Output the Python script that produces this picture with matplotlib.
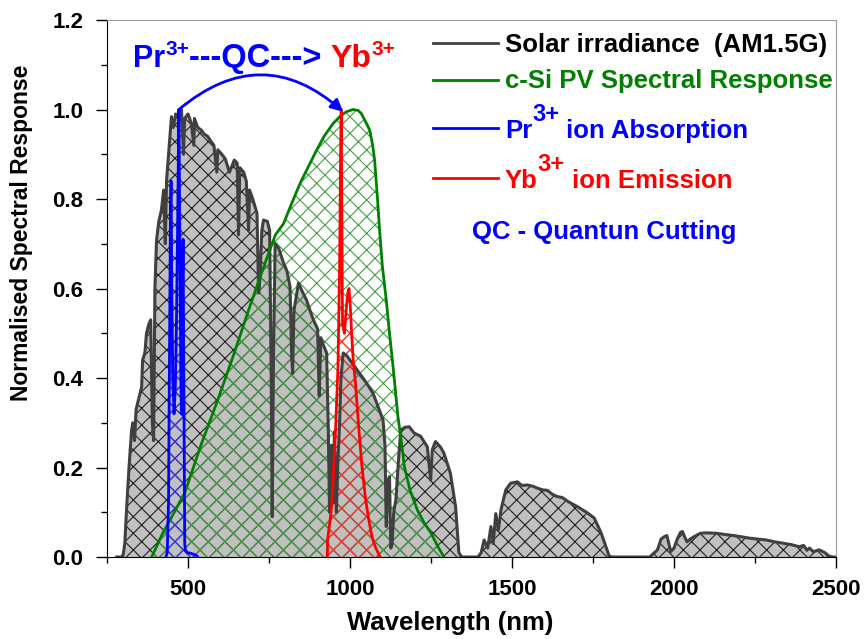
import numpy as np
import matplotlib
matplotlib.use('Agg')
import matplotlib.pyplot as plt
from matplotlib.ticker import MultipleLocator

plt.rcParams['font.family'] = ['Liberation Sans', 'DejaVu Sans']
plt.rcParams['font.weight'] = 'bold'
plt.rcParams['hatch.linewidth'] = 0.8

## AM1.5G solar irradiance (normalised)
solar_wl = [280, 295, 300, 305, 310, 318, 326, 330, 335, 340, 350, 357, 360, 367, 372, 379, 385,
            390, 394, 398, 403, 410, 418, 425, 430, 434, 440, 445, 449, 455, 462, 470, 475, 480,
            486, 490, 500, 510, 518, 520, 530, 541, 550, 561, 570, 580, 589, 592, 602, 615, 628,
            643, 652, 656, 660, 672, 680, 687, 690, 700, 713, 718, 722, 728, 733, 745, 752, 757,
            760, 764, 769, 780, 795, 805, 815, 820, 823, 827, 841, 855, 866, 877, 887, 900, 905,
            910, 920, 928, 933, 937, 943, 948, 952, 958, 963, 968, 972, 979, 990, 1000, 1015,
            1030, 1050, 1071, 1090, 1102, 1108, 1112, 1117, 1122, 1126, 1130, 1135, 1142, 1150,
            1157, 1170, 1183, 1198, 1218, 1239, 1245, 1249, 1254, 1264, 1280, 1290, 1310, 1326,
            1336, 1345, 1395, 1405, 1414, 1425, 1435, 1442, 1450, 1458, 1466, 1474, 1481, 1496,
            1517, 1530, 1548, 1565, 1578, 1595, 1609, 1625, 1640, 1655, 1673, 1703, 1734, 1754,
            1775, 1790, 1800, 1810, 1925, 1949, 1960, 1969, 1978, 1984, 1990, 2000, 2010, 2020,
            2026, 2033, 2040, 2050, 2061, 2081, 2100, 2132, 2160, 2183, 2210, 2234, 2260, 2285,
            2310, 2336, 2360, 2387, 2400, 2410, 2418, 2430, 2448, 2465, 2479, 2490, 2500]
solar_val = [0, 0, 0.005, 0.03, 0.1, 0.2, 0.284, 0.30, 0.26, 0.33, 0.36, 0.38, 0.44, 0.456, 0.50,
             0.52, 0.53, 0.30, 0.26, 0.60, 0.708, 0.75, 0.775, 0.82, 0.70, 0.842, 0.90, 0.95,
             0.984, 0.96, 0.99, 0.98, 0.99, 1.0, 0.90, 0.98, 0.99, 0.97, 0.92, 0.98, 0.96, 0.954,
             0.945, 0.94, 0.93, 0.92, 0.86, 0.91, 0.902, 0.89, 0.86, 0.887, 0.88, 0.72, 0.87,
             0.86, 0.84, 0.73, 0.82, 0.80, 0.768, 0.59, 0.62, 0.73, 0.753, 0.75, 0.73, 0.40, 0.09,
             0.45, 0.70, 0.69, 0.657, 0.64, 0.604, 0.45, 0.41, 0.55, 0.612, 0.59, 0.574, 0.55,
             0.53, 0.51, 0.36, 0.49, 0.47, 0.456, 0.29, 0.10, 0.25, 0.12, 0.28, 0.10, 0.22, 0.30,
             0.40, 0.456, 0.45, 0.44, 0.425, 0.41, 0.39, 0.366, 0.33, 0.306, 0.25, 0.068, 0.17,
             0.18, 0.02, 0.03, 0.10, 0.13, 0.22, 0.284, 0.29, 0.291, 0.277, 0.27, 0.246, 0.20,
             0.172, 0.24, 0.258, 0.245, 0.232, 0.187, 0.112, 0.01, 0, 0, 0.01, 0.038, 0.02, 0.068,
             0.03, 0.097, 0.06, 0.105, 0.13, 0.15, 0.165, 0.168, 0.16, 0.161, 0.158, 0.154, 0.15,
             0.149, 0.14, 0.135, 0.133, 0.124, 0.112, 0.098, 0.087, 0.054, 0.023, 0.002, 0, 0,
             0.016, 0.04, 0.045, 0.048, 0.03, 0.012, 0.02, 0.04, 0.055, 0.057, 0.045, 0.034, 0.04,
             0.045, 0.053, 0.054, 0.053, 0.05, 0.048, 0.045, 0.042, 0.04, 0.038, 0.034, 0.031,
             0.028, 0.023, 0.026, 0.015, 0.02, 0.012, 0.016, 0.01, 0.002, 0, 0]

## c-Si PV spectral response
si_wl = [388, 420, 450, 490, 540, 592, 640, 684, 720, 745, 770, 795, 820, 846, 870, 897, 920, 948,
         970, 989, 1010, 1025, 1035, 1050, 1061, 1070, 1076, 1085, 1092, 1100, 1112, 1122, 1133,
         1148, 1160, 1168, 1185, 1208, 1230, 1249, 1270, 1290]
si_val = [0, 0.05, 0.09, 0.143, 0.25, 0.351, 0.45, 0.545, 0.62, 0.671, 0.72, 0.745, 0.79, 0.835,
          0.87, 0.909, 0.94, 0.969, 0.985, 0.995, 1.0, 0.998, 0.991, 0.97, 0.954, 0.92, 0.887,
          0.80, 0.724, 0.65, 0.574, 0.50, 0.425, 0.314, 0.25, 0.202, 0.15, 0.105, 0.075, 0.055,
          0.025, 0]

## Yb3+ emission
yb_wl = [930, 931, 940, 945, 955, 963, 968, 971, 973, 975, 977, 983, 988, 993, 997, 1001, 1005,
         1010, 1017, 1027, 1037, 1048, 1058, 1068, 1078, 1093]
yb_val = [0, 0.04, 0.09, 0.127, 0.277, 0.425, 0.649, 0.9, 1.0, 0.75, 0.52, 0.50, 0.55, 0.59, 0.60,
          0.56, 0.50, 0.44, 0.388, 0.29, 0.202, 0.13, 0.083, 0.045, 0.023, 0]

## Pr3+ absorption
pr_wl = [432, 436, 440, 443, 446, 448, 450, 453, 457, 461, 465, 469, 472, 475, 478, 480, 482, 485,
         488, 490, 492, 498, 510, 525, 530]
pr_val = [0, 0.01, 0.12, 0.45, 0.78, 0.84, 0.6, 0.4, 0.32, 0.38, 0.55, 0.80, 1.0, 0.7, 0.40, 0.32,
          0.5, 0.71, 0.3, 0.03, 0.015, 0.01, 0.008, 0.004, 0]

legend_labels = [[('Solar irradiance  (AM1.5G)', False)],
                 [('c-Si PV Spectral Response', False)],
                 [('Pr', False), ('3+', True), (' ion Absorption', False)],
                 [('Yb', False), ('3+', True), (' ion Emission', False)]]
legend_colors = ['black', '#008000', '#0000ff', '#ff0000']

BLUE, RED, GREEN = '#0000ff', '#ff0000', '#008000'


def rich_text(ax, x, y, pieces, size, sup_size, rise):
    # pieces: (text, colour, is_superscript[, own size]); chained one after the other
    prev, prev_sup = None, False
    for p in pieces:
        s, c, sup = p[:3]
        fs = p[3] if len(p) > 3 else (sup_size if sup else size)
        if prev is None:
            t = ax.text(x, y, s, color=c, fontsize=fs, transform=ax.transAxes, va='baseline')
        else:
            dy = rise if sup else (-rise if prev_sup else 0)
            t = ax.annotate(s, xy=(1, 0), xycoords=prev, xytext=(0, dy),
                            textcoords='offset points', va='bottom', color=c, fontsize=fs)
        prev, prev_sup = t, sup
    return prev


fig = plt.figure(figsize=(8.64, 6.39), dpi=100)
ax = fig.add_axes([0.1238, 0.1283, 0.8438, 0.8404])

# hatched areas (same hatch grid, so later ones cover earlier ones)
ax.fill_between(solar_wl, solar_val, 0, facecolor='#c0c0c0', edgecolor='#202020', hatch='xx', linewidth=0)
ax.fill_between(si_wl, si_val, 0, facecolor='none', edgecolor='#44a044', hatch='xx', linewidth=0)
ax.fill_between(yb_wl, yb_val, 0, facecolor='none', edgecolor='#ff3030', hatch='xx', linewidth=0)
ax.fill_between(pr_wl, pr_val, 0, facecolor='none', edgecolor='#3030ff', hatch='xx', linewidth=0)

ax.plot(solar_wl, solar_val, color='#404040', lw=2.2)
ax.plot(si_wl, si_val, color=GREEN, lw=2)
ax.plot(pr_wl, pr_val, color=BLUE, lw=2)
ax.plot(yb_wl, yb_val, color=RED, lw=2)

ax.set_xlim(250, 2500)
ax.set_ylim(0, 1.2)
ax.xaxis.set_major_locator(MultipleLocator(500))
ax.xaxis.set_minor_locator(MultipleLocator(250))
ax.yaxis.set_major_locator(MultipleLocator(0.2))
ax.yaxis.set_minor_locator(MultipleLocator(0.1))
ax.yaxis.set_major_formatter(plt.FormatStrFormatter('%.1f'))
ax.tick_params(which='major', direction='out', length=8, width=1, labelsize=16)
ax.tick_params(which='minor', direction='out', length=4, width=1)
ax.tick_params(axis='x', which='major', pad=8)
ax.tick_params(axis='y', which='major', pad=9)
ax.tick_params(top=False, right=False)
for s in ['top', 'right']:
    ax.spines[s].set_color('#999999')
ax.set_xlabel('Wavelength (nm)', fontsize=18.5, fontweight='bold')
ax.set_ylabel('Normalised Spectral Response', fontsize=16.5, fontweight='bold')
ax.xaxis.set_label_coords(0.4705, -0.101)
ax.yaxis.set_label_coords(-0.102, 0.603)

# legend built by hand (big superscripts, uneven row heights as in the original)
key_y = [0.957, 0.888, 0.799, 0.706]
text_y = [0.940, 0.873, 0.780, 0.687]
for i in range(4):
    ax.plot([0.447, 0.536], [key_y[i]] * 2, color=['#404040', GREEN, BLUE, RED][i], lw=2,
            transform=ax.transAxes)
    pieces = [(s, legend_colors[i], sup) for s, sup in legend_labels[i]]
    rich_text(ax, 0.546, text_y[i], pieces, 18.5, 17, 12)
ax.text(0.5007, 0.592, 'QC - Quantun Cutting', color=BLUE, fontsize=18.5, transform=ax.transAxes,
        va='baseline')

# QC transfer label + arrow
rich_text(ax, 0.0357, 0.9125, [('Pr', BLUE, False), ('3+', BLUE, True),
                               ('---QC---> ', BLUE, False, 23.5),
                               ('Yb', RED, False, 23), ('3+', RED, True)], 22, 15, 11)
ax.annotate('', xy=(979, 0.995), xytext=(472, 1.0),
            arrowprops=dict(arrowstyle='-|>', color=BLUE, lw=2, mutation_scale=18,
                            connectionstyle='arc3,rad=-0.43', shrinkA=0, shrinkB=0))

plt.savefig('out.png', dpi=100)
